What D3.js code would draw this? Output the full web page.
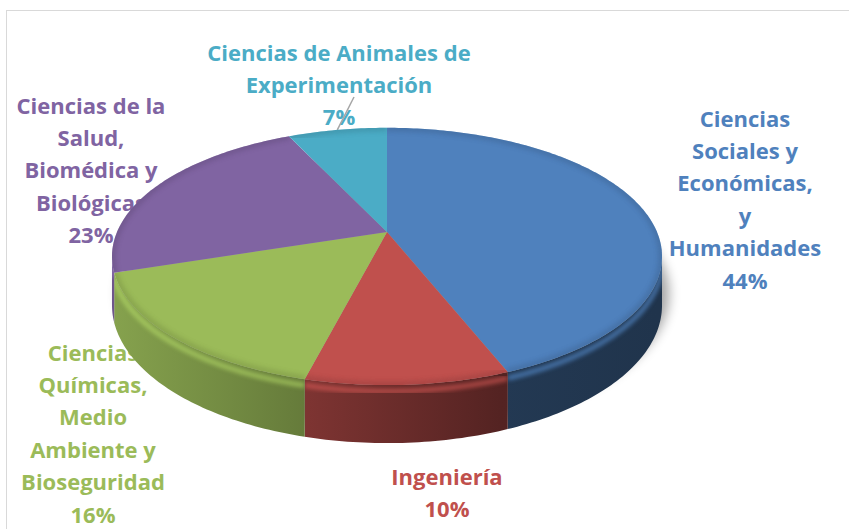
<!DOCTYPE html>
<html>
<head>
<meta charset="utf-8">
<script src="https://cdn.jsdelivr.net/npm/d3@7"></script>
<style>
  body { margin: 0; background: #fff; }
  svg { display: block; }
  text { font-family: "Open Sans", Lato, sans-serif; font-weight: bold; }
</style>
</head>
<body>
<svg id="chart" width="849" height="529"></svg>
<script>
// Data
const categories = [
    "Ciencias Sociales y Económicas, y Humanidades",
    "Ingeniería",
    "Ciencias Químicas, Medio Ambiente y Bioseguridad",
    "Ciencias de la Salud, Biomédica y Biológicas",
    "Ciencias de Animales de Experimentación"
];
const values = [44, 10, 16, 23, 7];
const labelLines = [
    ["Ciencias", "Sociales y", "Económicas,", "y", "Humanidades"],
    ["Ingeniería"],
    ["Ciencias", "Químicas,", "Medio", "Ambiente y", "Bioseguridad"],
    ["Ciencias de la", "Salud,", "Biomédica y", "Biológicas"],
    ["Ciencias de Animales de", "Experimentación"]
];
const colors = ["#4F81BD", "#C0504D", "#9BBB59", "#8064A2", "#4BACC6"];

// layout
const labelPos = [[745, 119], [447, 477], [93, 353], [91, 106], [339, 53]];
const lineStep = 32.4;
const fontSize = 22;
const pie3d = { cx: 387, cy: 232, c: 270, a: 124, b: 0.19, h: 47 };

const svg = d3.select('#chart');
const defs = svg.append('defs');

// frame
svg.append('rect')
    .attr('x', 6.5).attr('y', 10.5)
    .attr('width', 900).attr('height', 600)
    .attr('fill', 'none')
    .attr('stroke', '#d9d9d9');

const total = d3.sum(values);
const pct = v => Math.round(v / total * 100) + '%';

const arcs = d3.pie().sort(null)(values);

// projection of a rim point (angle clockwise from 12 o'clock) at depth z
function proj(theta, z) {
    const u = -Math.cos(theta);
    const s = 1 / (1 - pie3d.b * u);
    return [pie3d.cx + pie3d.c * Math.sin(theta) * s, pie3d.cy + (pie3d.a * u + z) * s];
}
const arcPts = (t0, t1, z) => {
    const n = Math.max(2, Math.ceil(Math.abs(t1 - t0) * 60));
    return d3.range(n + 1).map(i => proj(t0 + (t1 - t0) * i / n, z));
};
const line = d3.line();

const thR = Math.acos(-pie3d.b);
const thL = 2 * Math.PI - thR;

// Labels (drawn under the pie)
const labels = svg.append('g');
labels.selectAll('text')
    .data(arcs)
    .join('text')
    .attr('text-anchor', 'middle')
    .attr('font-size', fontSize)
    .attr('fill', (d, i) => colors[i])
    .each(function(d, i) {
        const lines = labelLines[i].concat([pct(values[i])]);
        d3.select(this).selectAll('tspan')
            .data(lines)
            .join('tspan')
            .attr('x', labelPos[i][0])
            .attr('y', (l, j) => labelPos[i][1] + j * lineStep + 7.5)
            .text(l => l);
    });

// leader line for the small slice
const teal = arcs[4];
const tealEnd = proj((teal.startAngle + teal.endAngle) / 2, 0);
svg.append('line')
    .attr('x1', 354).attr('y1', 97)
    .attr('x2', tealEnd[0]).attr('y2', tealEnd[1])
    .attr('stroke', '#a6a6a6')
    .attr('stroke-width', 1.5);

// filters
defs.append('filter').attr('id', 'blur6')
    .attr('x', '-20%').attr('y', '-20%').attr('width', '140%').attr('height', '140%')
    .append('feGaussianBlur').attr('stdDeviation', 6);
defs.append('filter').attr('id', 'blur2')
    .append('feGaussianBlur').attr('stdDeviation', 2);

// shadow
svg.append('path')
    .attr('d', line(arcPts(0, 2 * Math.PI, pie3d.h * 0.6)))
    .attr('transform', 'translate(7,8)')
    .attr('fill', '#000')
    .attr('opacity', 0.35)
    .attr('filter', 'url(#blur6)');

// side brightness across x
const bright = d3.scaleLinear()
    .domain([pie3d.cx - pie3d.c, pie3d.cx - 0.25 * pie3d.c, pie3d.cx + 0.42 * pie3d.c, pie3d.cx + pie3d.c])
    .range([0.86, 0.64, 0.44, 0.40])
    .clamp(true);
const shade = (col, k) => {
    const c = d3.rgb(col);
    return d3.rgb(c.r * k, c.g * k, c.b * k).formatHex();
};

const sides = svg.append('g');
arcs.forEach((d, i) => {
    const t0 = Math.max(d.startAngle, thR);
    const t1 = Math.min(d.endAngle, thL);
    if (t0 >= t1) return;
    const gid = 'side' + i;
    const grad = defs.append('linearGradient')
        .attr('id', gid)
        .attr('gradientUnits', 'userSpaceOnUse')
        .attr('x1', pie3d.cx - pie3d.c).attr('x2', pie3d.cx + pie3d.c)
        .attr('y1', 0).attr('y2', 0);
    bright.domain().forEach(x => {
        grad.append('stop')
            .attr('offset', (x - (pie3d.cx - pie3d.c)) / (2 * pie3d.c))
            .attr('stop-color', shade(colors[i], bright(x)));
    });
    const pts = arcPts(t0, t1, 0).concat(arcPts(t0, t1, pie3d.h).reverse());
    sides.append('path')
        .attr('d', line(pts) + 'Z')
        .attr('fill', `url(#${gid})`);

    // rim highlight
    defs.append('clipPath').attr('id', 'clip' + i)
        .append('path').attr('d', line(pts) + 'Z');
    sides.append('g')
        .attr('clip-path', `url(#clip${i})`)
        .append('path')
        .attr('d', line(arcPts(t0, t1, 5)))
        .attr('fill', 'none')
        .attr('stroke', d3.rgb(colors[i]).brighter(0.6))
        .attr('stroke-width', 5)
        .attr('opacity', 0.55)
        .attr('filter', 'url(#blur2)');
});

// top faces
const tops = svg.append('g');
arcs.forEach((d, i) => {
    const pts = [[pie3d.cx, pie3d.cy]].concat(arcPts(d.startAngle, d.endAngle, 0));
    tops.append('path')
        .attr('d', line(pts) + 'Z')
        .attr('fill', colors[i]);
    defs.append('clipPath').attr('id', 'tclip' + i)
        .append('path').attr('d', line(pts) + 'Z');
    tops.append('g')
        .attr('clip-path', `url(#tclip${i})`)
        .append('path')
        .attr('d', line(arcPts(d.startAngle, d.endAngle, 0)))
        .attr('fill', 'none')
        .attr('stroke', d3.rgb(colors[i]).darker(0.7))
        .attr('stroke-width', 8)
        .attr('opacity', 0.45)
        .attr('filter', 'url(#blur2)');
});
</script>
</body>
</html>
